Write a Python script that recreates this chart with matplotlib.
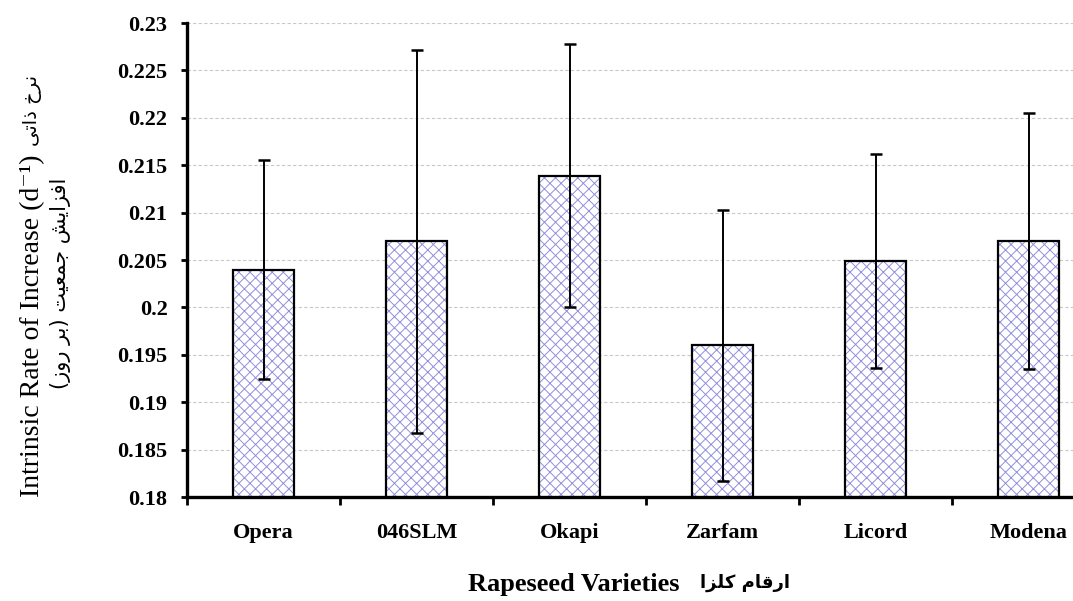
import matplotlib.pyplot as plt
import numpy as np

varieties = ["Opera", "046SLM", "Okapi", "Zarfam", "Licord", "Modena"]
rates = [0.204, 0.207, 0.2139, 0.196, 0.2049, 0.207]
errors = [0.0116, 0.0202, 0.0139, 0.0143, 0.0113, 0.0135]
yticks = [0.18, 0.185, 0.19, 0.195, 0.2, 0.205, 0.21, 0.215, 0.22, 0.225, 0.23]
ytick_labels = ["0.18", "0.185", "0.19", "0.195", "0.2", "0.205", "0.21", "0.215", "0.22", "0.225", "0.23"]

# persian text written in visual order with presentation forms (matplotlib does no shaping)
fa_rate = "\ufef0\ufe97\ufe8d\ufeab \ufea5\ufeae\ufee7"               # نرخ ذاتی
fa_pop = ("(\ufeaf\ufeed\ufead \ufeae\ufe91) "
          "\ufe96\ufef4\ufecc\ufee4\ufe9f "
          "\ufeb6\ufef3\ufe8d\ufeb0\ufed3\ufe8d")                      # افزایش جمعیت (بر روز)
fa_var = "\ufe8d\ufeb0\ufee0\ufedb \ufee1\ufe8e\ufed7\ufead\ufe8d"     # ارقام کلزا

plt.rcParams['hatch.linewidth'] = 0.7

fig = plt.figure(figsize=(10.73, 6.01), dpi=100)
ax = fig.add_axes([0.1743, 0.173, 0.8257, 0.7887])

x = np.arange(len(varieties))
# hatched fill first, black outline on top
ax.bar(x, rates, width=0.4, facecolor='white', edgecolor='#9090dc', linewidth=0,
       hatch='xxx', zorder=2)
ax.bar(x, rates, width=0.4, fill=False, edgecolor='black', linewidth=1.6, zorder=2)
ax.errorbar(x, rates, yerr=errors, fmt='none', ecolor='black', elinewidth=1.4,
            capsize=4, capthick=1.8, zorder=3)

ax.set_ylim(0.18, 0.23)
ax.set_xlim(-0.5, 5.29)
ax.set_yticks(yticks)
ax.set_yticklabels(ytick_labels, family='Liberation Serif', fontweight='bold', fontsize=16)
ax.set_xticks(x)
ax.set_xticklabels(varieties, family='Liberation Serif', fontweight='bold', fontsize=16)
ax.set_xticks(np.arange(-0.5, 5.5, 1.0), minor=True)
ax.tick_params(axis='x', which='major', length=0, pad=19)
ax.tick_params(axis='x', which='minor', length=6, width=2, direction='out')
ax.tick_params(axis='y', length=4, width=2, direction='out', pad=10)

ax.grid(axis='y', color='#c8c8c8', linestyle=(0, (3, 2)), linewidth=0.8, zorder=0)
ax.set_axisbelow(True)
for side in ['top', 'right']:
    ax.spines[side].set_visible(False)
for side in ['left', 'bottom']:
    ax.spines[side].set_linewidth(2.4)

# y axis title: two centred lines
fig.text(0.030, 1 - 497 / 601, "Intrinsic Rate of Increase (d\u207b\u00b9)", rotation=90,
         ha='center', va='bottom', fontsize=20,
         family=['Liberation Serif', 'DejaVu Serif'])
fig.text(0.030, 1 - 146 / 601, fa_rate, rotation=90, ha='center', va='bottom',
         fontsize=14, family='DejaVu Sans')
fig.text(0.056, 0.529, fa_pop, rotation=90, ha='center', va='center', fontsize=15,
         family='DejaVu Sans')

# x axis title
fig.text(680 / 1073, 0.028, "Rapeseed Varieties", ha='right', va='center',
         fontsize=19, fontweight='bold', family='Liberation Serif')
fig.text(700 / 1073, 0.030, fa_var, ha='left', va='center',
         fontsize=13, fontweight='bold', family='DejaVu Sans')

fig.savefig("out.png", dpi=100)
